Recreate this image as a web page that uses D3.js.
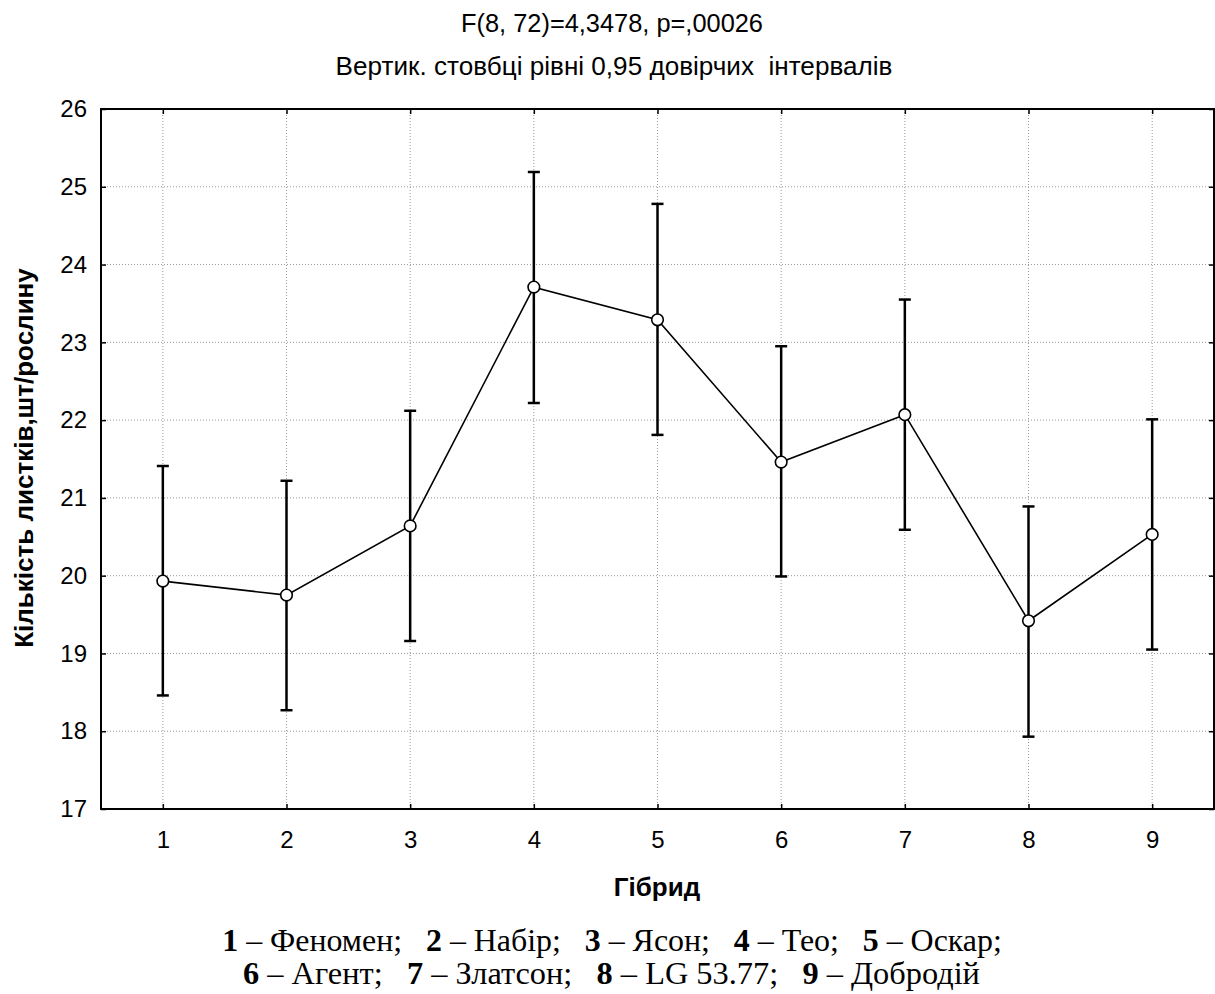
<!DOCTYPE html>
<html><head><meta charset="utf-8">
<script src="https://cdn.jsdelivr.net/npm/d3@7"></script>
<style>
body{margin:0;background:#fff;}
svg{display:block;}
text{white-space:pre;}
</style></head>
<body>
<svg id="c" width="1215" height="994"></svg>
<script>
const hybrids = [1,2,3,4,5,6,7,8,9];
const means = [19.93,19.75,20.64,23.71,23.29,21.46,22.07,19.42,20.53];
const ciLow = [18.46,18.27,19.16,22.22,21.81,19.99,20.59,17.93,19.05];
const ciHigh = [21.41,21.22,22.12,25.19,24.78,22.95,23.55,20.89,22.01];
const yTicks = [17,18,19,20,21,22,23,24,25,26];
const titleLines = ["F(8, 72)=4,3478, p=,00026","Вертик. стовбці рівні 0,95 довірчих  інтервалів"];
const yTitle = "Кількість листків,шт/рослину";
const xTitle = "Гібрид";
const legend1 = [["1","Феномен"],["2","Набір"],["3","Ясон"],["4","Тео"],["5","Оскар"]];
const legend2 = [["6","Агент"],["7","Златсон"],["8","LG 53.77"],["9","Добродій"]];

const svg = d3.select("#c");
const L=101,R=1214,T=109,B=809;
const x = d3.scaleLinear().domain([0.5,9.5]).range([L,R]);
const y = d3.scaleLinear().domain([17,26]).range([B,T]);
const sans = "'Liberation Sans',Arial,sans-serif";
const serif = "'Liberation Serif','Times New Roman',serif";

// grid
const g = svg.append("g");
g.selectAll("line.gy").data(yTicks.slice(1,-1)).join("line")
 .attr("x1",L).attr("x2",R).attr("y1",d=>y(d)).attr("y2",d=>y(d))
 .attr("stroke","#999").attr("stroke-width",1).attr("stroke-dasharray","1,2");
g.selectAll("line.gx").data(hybrids).join("line")
 .attr("y1",T).attr("y2",B).attr("x1",d=>x(d)).attr("x2",d=>x(d))
 .attr("stroke","#999").attr("stroke-width",1).attr("stroke-dasharray","1,2");

// axes with inward ticks
const yL = d3.axisLeft(y).tickValues(yTicks).tickSize(-5).tickPadding(14).tickFormat(d3.format("d"));
const yR = d3.axisRight(y).tickValues(yTicks).tickSize(-5).tickFormat("");
const xB = d3.axisBottom(x).tickValues(hybrids).tickSize(-5).tickPadding(22).tickFormat(d3.format("d"));
const xT = d3.axisTop(x).tickValues(hybrids).tickSize(-5).tickFormat("");
function style(sel){
  sel.select(".domain").remove();
  sel.selectAll(".tick line").attr("stroke","#000").attr("stroke-width",1.5);
  sel.selectAll("text").attr("font-family",sans).attr("font-size",24).attr("fill","#000");
}
svg.append("g").attr("transform",`translate(${L},0)`).call(yL).call(style);
svg.append("g").attr("transform",`translate(${R},0)`).call(yR).call(style);
svg.append("g").attr("transform",`translate(0,${B})`).call(xB).call(style);
svg.append("g").attr("transform",`translate(0,${T})`).call(xT).call(style);

// frame
svg.append("rect").attr("x",L).attr("y",T).attr("width",R-L).attr("height",B-T)
 .attr("fill","none").attr("stroke","#000").attr("stroke-width",2);

// error bars
const eb = svg.append("g").attr("stroke","#000").attr("stroke-width",2.5);
eb.selectAll("line.v").data(hybrids).join("line")
 .attr("x1",d=>x(d)).attr("x2",d=>x(d)).attr("y1",(d,i)=>y(ciLow[i])).attr("y2",(d,i)=>y(ciHigh[i]));
eb.selectAll("line.h").data(hybrids).join("line")
 .attr("x1",d=>x(d)-6).attr("x2",d=>x(d)+6).attr("y1",(d,i)=>y(ciHigh[i])).attr("y2",(d,i)=>y(ciHigh[i]));
eb.selectAll("line.l").data(hybrids).join("line")
 .attr("x1",d=>x(d)-6).attr("x2",d=>x(d)+6).attr("y1",(d,i)=>y(ciLow[i])).attr("y2",(d,i)=>y(ciLow[i]));

// line
const line = d3.line().x((d,i)=>x(hybrids[i])).y(d=>y(d));
svg.append("path").datum(means).attr("d",line).attr("fill","none").attr("stroke","#000").attr("stroke-width",1.6);
svg.selectAll("circle.m").data(means).join("circle")
 .attr("cx",(d,i)=>x(hybrids[i])).attr("cy",d=>y(d)).attr("r",5.8)
 .attr("fill","#fff").attr("stroke","#000").attr("stroke-width",1.6);

// fit text horizontally to a target width, centered at cx, baseline by
function fitText(t, cx, by, width){
  const w = t.node().getComputedTextLength();
  t.attr("x",0).attr("y",0).attr("text-anchor","middle")
   .attr("transform",`translate(${cx},${by}) scale(${width/w},1)`);
}

// titles
fitText(svg.append("text").attr("font-family",sans).attr("font-size",26).text(titleLines[0]), 612, 32, 302);
fitText(svg.append("text").attr("font-family",sans).attr("font-size",26).text(titleLines[1]), 614, 75, 557);
svg.append("text").attr("transform","translate(33,458) rotate(-90)").attr("text-anchor","middle")
 .attr("font-family",sans).attr("font-weight","bold").attr("font-size",26).text(yTitle);
svg.append("text").attr("x",657).attr("y",896).attr("text-anchor","middle")
 .attr("font-family",sans).attr("font-weight","bold").attr("font-size",26).text(xTitle);

// legend
function legendLine(items, by, x0, x1, last){
  const t = svg.append("text").attr("font-family",serif).attr("font-size",31);
  items.forEach((it,i)=>{
    t.append("tspan").attr("font-weight","bold").text((i>0?"   ":"")+it[0]);
    t.append("tspan").text(" – "+it[1]+(i<items.length-1||last?";":""));
  });
  fitText(t, (x0+x1)/2, by, x1-x0);
}
legendLine(legend1, 951, 222, 1002, true);
legendLine(legend2, 984, 243, 980, false);
</script>
</body></html>
